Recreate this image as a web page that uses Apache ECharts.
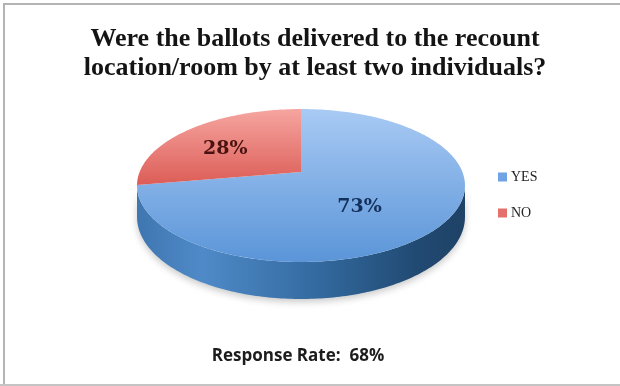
<!DOCTYPE html>
<html><head><meta charset="utf-8">
<style>html,body{margin:0;padding:0;background:#fff}#c{width:620px;height:386px}</style>
<script src="https://cdn.jsdelivr.net/npm/echarts@6/dist/echarts.min.js"></script>
</head><body><div id="c"></div>
<script>
const categories = ['YES', 'NO'];
const values = [73, 28];
const labels = ['73%', '28%'];
const titleText = 'Were the ballots delivered to the recount\nlocation/room by at least two individuals?';
const noteText = 'Response Rate:  68%';

// Projection of the tilted disc
const disc = {cx: 301, cy: 172, rx: 161.4, ry: 74.1, k: 0.1765, depth: 30.5};
const labelPlacement = [{f: 0.45, dy: 12}, {f: 0.66, dy: 6}];
const labelColors = ['#13305c', '#4a1210'];
const legendColors = ['#6fa3e4', '#e4706c'];
const topFills = [
  ['#a8caf4', '#5b95d8'],
  ['#f6a5a0', '#dc5c56']
];
const sideFills = [
  [[0, '#3f76b0'], [0.2, '#4f8ac8'], [0.55, '#336a9f'], [0.85, '#214a73'], [1, '#1f4266']],
  [[0, '#a33a36'], [1, '#a33a36']]
];

const total = values.reduce((a, b) => a + b, 0);
function project(theta, frac, drop) {
  const u = Math.sin(theta) * frac, v = -Math.cos(theta) * frac;
  const s = 1 / (1 - disc.k * v);
  return [disc.cx + disc.rx * u * s, disc.cy + (disc.ry * v + (drop || 0)) * s];
}
function arcPoints(a0, a1, drop) {
  const n = Math.max(2, Math.ceil(Math.abs(a1 - a0) * 60));
  const pts = [];
  for (let i = 0; i <= n; i++) pts.push(project(a0 + (a1 - a0) * i / n, 1, drop));
  return pts;
}
function renderSlice(idx) {
  return function (params, api) {
    const val = api.value(0);
    let before = 0;
    for (let i = 0; i < idx; i++) before += values[i];
    const a0 = before / total * Math.PI * 2, a1 = (before + val) / total * Math.PI * 2;
    const children = [];
    // visible rim is the front part of the disc, between the silhouette angles
    const hid = Math.acos(disc.k);
    const v0 = Math.PI - hid, v1 = Math.PI + hid;
    const s0 = Math.max(a0, v0), s1 = Math.min(a1, v1);
    if (s1 > s0) {
      const upper = arcPoints(s0, s1, 0), lower = arcPoints(s1, s0, disc.depth);
      children.push({
        type: 'polygon',
        shape: {points: upper.concat(lower)},
        style: {
          fill: new echarts.graphic.LinearGradient(137, 0, 465, 0,
            sideFills[idx].map(c => ({offset: c[0], color: c[1]})), true),
          shadowColor: 'rgba(60,60,60,0.28)', shadowBlur: 7, shadowOffsetY: 3
        }
      });
    }
    const face = [[disc.cx, disc.cy]].concat(arcPoints(a0, a1, 0));
    children.push({
      type: 'polygon',
      shape: {points: face},
      style: {
        fill: new echarts.graphic.LinearGradient(0, 109, 0, idx === 0 ? 262 : 186, [
          {offset: 0, color: topFills[idx][0]},
          {offset: 1, color: topFills[idx][1]}
        ], true)
      }
    });
    const mid = (a0 + a1) / 2;
    const p = project(mid, labelPlacement[idx].f, 0);
    children.push({
      type: 'text',
      z2: 10,
      style: {
        x: p[0], y: p[1] + labelPlacement[idx].dy,
        text: labels[idx], align: 'center', verticalAlign: 'middle',
        font: 'bold 19px "DejaVu Serif"', fill: labelColors[idx]
      }
    });
    return {type: 'group', children};
  };
}

const chart = echarts.init(document.getElementById('c'), null, {renderer: 'canvas'});
chart.setOption({
  animation: false,
  backgroundColor: '#ffffff',
  color: legendColors,
  title: [
    {text: titleText, left: 310, top: 20, textAlign: 'center',
     textStyle: {fontFamily: 'Liberation Serif', fontWeight: 'bold', fontSize: 26, lineHeight: 29, color: '#141414'}},
    {text: noteText, left: 293, top: 343, textAlign: 'center',
     textStyle: {fontFamily: 'Open Sans', fontWeight: 'bold', fontSize: 17, color: '#1c1c1c'}}
  ],
  legend: {
    orient: 'vertical', left: 493, top: 165,
    itemWidth: 9, itemHeight: 9, itemGap: 22,
    icon: 'rect', data: categories,
    textStyle: {fontFamily: 'Liberation Serif', fontSize: 14, color: '#222', padding: [1, 0, 0, -1]}
  },
  graphic: [
    {type: 'rect', shape: {x: 4, y: 4, width: 640, height: 400}, silent: true, z: -1,
     style: {fill: 'none', stroke: '#b4b4b4', lineWidth: 2}},
    {type: 'rect', shape: {x: 0, y: 384, width: 620, height: 2}, silent: true, z: -1,
     style: {fill: '#c4c4c4'}}
  ],
  series: categories.map((name, i) => ({
    type: 'custom',
    name,
    coordinateSystem: 'none',
    renderItem: renderSlice(i),
    data: [[values[i]]],
    silent: true,
    z: 2 + (i === 0 ? 0 : 1)
  }))
});
</script></body></html>
